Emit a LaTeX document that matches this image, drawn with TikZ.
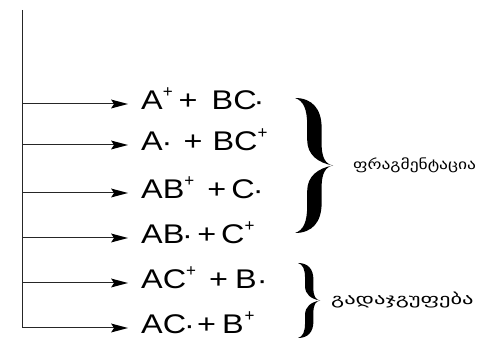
\documentclass[tikz,border=0pt]{standalone}
\usepackage{fontspec}
\usetikzlibrary{calc}
\newfontfamily\chemfont[FakeStretch=1.2]{Liberation Sans}
\newfontfamily\chemsupfont{Liberation Sans}
\newfontfamily\geofont[FakeStretch=1.25]{DejaVu Sans}
\newfontfamily\geofontb[FakeStretch=1.5]{DejaVu Sans}
\newcommand\chsup{\raisebox{12pt}{\chemsupfont\fontsize{17pt}{17pt}\selectfont +}}
\newcommand\chdot{\makebox[3.4pt][c]{\raisebox{-1pt}{·}}}
\newcommand\hs[1]{\hspace{#1pt}}
\newcommand\halfbrace{%
  \fill (0,0) .. controls (0.45,0.0) and (0.70,0.08) .. (0.70,0.22)
    -- (0.70,0.34) .. controls (0.70,0.44) and (0.80,0.49) .. (1,0.5)
    .. controls (0.60,0.48) and (0.32,0.42) .. (0.32,0.31)
    -- (0.32,0.20) .. controls (0.32,0.08) and (0.22,0.02) .. (0,0) -- cycle;}
\newcommand\bigbrace{\halfbrace
  \begin{scope}[shift={(0,1)},yscale=-1]\halfbrace\end{scope}}
\begin{document}
\begin{tikzpicture}[x=1pt,y=1pt,
  rowtext/.style={anchor=base west,inner sep=0pt,font=\chemfont\fontsize{27pt}{27pt}\selectfont},
  geotext/.style={anchor=west,inner sep=0pt,font=\geofont\fontsize{14pt}{14pt}\selectfont},
  conn/.style={line width=1pt,draw=black!85},
  tipfill/.style={fill=black}]
\useasboundingbox (0,0) rectangle (486,339);
\coordinate (top) at (22,329);
\coordinate (s1) at (22,235);
\coordinate (s2) at (22,194);
\coordinate (s3) at (22,146);
\coordinate (s4) at (22,101);
\coordinate (s5) at (22,56);
\coordinate (s6) at (22,11);
\draw[conn] (top) -- (s6);
\node[rowtext] (r1) at (141,229.5) {A\chsup\hs{6}+\hs{14}BC\hs{0.6}\chdot};
\node[rowtext] (r2) at (141,188.5) {A\hs{2.5}\chdot\hs{15}+\hs{10}BC\chsup};
\node[rowtext] (r3) at (141,140.5) {AB\chsup\hs{13}+\hs{5}C\hs{2}\chdot};
\node[rowtext] (r4) at (141,95.5) {AB\hs{1.5}\chdot\hs{8}+\hs{5}C\chsup};
\node[rowtext] (r5) at (141,50.5) {AC\chsup\hs{13}+\hs{7}B\hs{4}\chdot};
\node[rowtext] (r6) at (141,5.5) {AC\hs{1.5}\chdot\hs{6}+\hs{6}B\hs{1}\chsup};
\foreach \i in {1,...,6} {
  \coordinate (e\i) at ($(s\i)+(106,0)$);
  \draw[conn] (s\i) -- ($(e\i)+(-13,0)$);
  \fill[tipfill] (e\i) -- ++(-17,4.5) -- ++(3,-4.5) -- ++(-3,-4.5) -- cycle;
}
\begin{scope}[shift={(295,241)},xscale=38,yscale=-135]\bigbrace\end{scope}
\begin{scope}[shift={(298,76)},xscale=22,yscale=-75]\bigbrace\end{scope}
\node[geotext] (g1) at (353,174) {ფრაგმენტაცია};
\node[geotext,font=\geofontb\fontsize{15pt}{15pt}\selectfont] (g2) at (331,39) {გადაჯგუფება};
\end{tikzpicture}
\end{document}
